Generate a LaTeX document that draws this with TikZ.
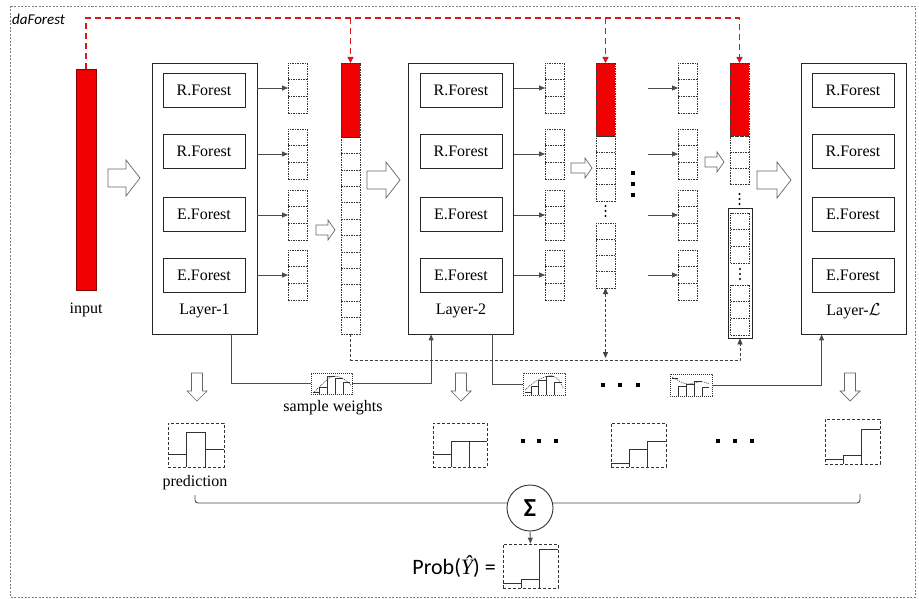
\documentclass[tikz,border=0pt]{standalone}
\usepackage{fontspec}
\setmainfont{Liberation Serif}
\newfontfamily\serif{Liberation Serif}
\newfontfamily\calfont{Carlito}
\usetikzlibrary{arrows.meta}
\newcommand{\vcol}[5]{%
  \node[vec, minimum height=#4*#5] (#1) at (#2+9.5,#3+#4*#5/2) {};
  \foreach \k in {1,...,#4} {\draw[cellline] (#2,#3+\k*#5) -- (#2+19,#3+\k*#5);}
}
% hollow arrow to the right: x0, x1, yc, shaft half, head half, head length
\newcommand{\harrowR}[6]{%
  \draw[harrow] (#1,#3-#4) -- (#2-#6,#3-#4) -- (#2-#6,#3-#5) -- (#2,#3) -- (#2-#6,#3+#5) -- (#2-#6,#3+#4) -- (#1,#3+#4) -- cycle;}
% hollow arrow down: xc, y0, y1, shaft half, head half, head length
\newcommand{\harrowD}[6]{%
  \draw[harrow] (#1-#4,#2) -- (#1-#4,#3-#6) -- (#1-#5,#3-#6) -- (#1,#3) -- (#1+#5,#3-#6) -- (#1+#4,#3-#6) -- (#1+#4,#2) -- cycle;}
\begin{document}
\begin{tikzpicture}[x=1pt,y=-1pt,
  conn/.style={draw=black!70, line width=0.9pt},
  arr/.style={conn, -{Triangle[length=6pt,width=5pt]}},
  dconn/.style={draw=black!75, line width=0.8pt, dash pattern=on 3pt off 2pt},
  reddash/.style={draw={rgb,255:red,215;green,25;blue,25}, line width=1.4pt, dash pattern=on 6pt off 4pt},
  vec/.style={draw=black!80, line width=0.6pt, dash pattern=on 1.5pt off 1pt, minimum width=19pt, inner sep=0pt, outer sep=0pt},
  cellline/.style={draw=black!80, line width=0.6pt, dash pattern=on 1.5pt off 1pt},
  redvec/.style={vec, fill={rgb,255:red,240;green,0;blue,0}},
  forestbox/.style={draw=black!85, line width=0.8pt, minimum width=82pt, minimum height=34pt, inner sep=0pt, font=\serif\fontsize{16}{18}\selectfont},
  layerbox/.style={draw=black!85, line width=0.8pt, minimum width=105pt, minimum height=271pt, inner sep=0pt},
  lbl/.style={font=\serif\fontsize{16}{18}\selectfont, inner sep=0pt},
  harrow/.style={draw=black!60, line width=0.7pt, fill=white},
  histbox/.style={draw=black!80, line width=0.8pt, dash pattern=on 3pt off 2pt, inner sep=0pt},
  swbox/.style={draw=black!80, line width=0.6pt, dash pattern=on 1.2pt off 0.8pt, inner sep=0pt},
  hist/.style={draw=black!80, line width=0.9pt},
  minihist/.style={draw=black!80, line width=0.5pt},
  minicurve/.style={draw=black!80, line width=0.6pt, dash pattern=on 1pt off 1pt},
  ]
\useasboundingbox (0,0) rectangle (919,599);
\draw[draw=black!50, line width=0.9pt, dash pattern=on 2pt off 1.5pt] (10,6) rectangle (915,597);
\node[anchor=west, inner sep=0pt, font=\calfont\itshape\fontsize{15}{17}\selectfont] (title) at (12,19) {daForest};

% input
\node[draw={rgb,255:red,140;green,0;blue,0}, fill={rgb,255:red,240;green,0;blue,0}, line width=0.8pt, minimum width=20pt, minimum height=221pt, inner sep=0pt] (inp) at (86,179.5) {};
\node[lbl] (inplbl) at (86,310) {input};

% layers
\node[layerbox] (L1) at (204.5,198.5) {};
\node[layerbox] (L2) at (461,198.5) {};
\node[layerbox] (LL) at (853.5,198.5) {};
\foreach \lay/\cx in {L1/204, L2/461, LL/853} {
  \node[forestbox] (\lay-f1) at (\cx,90) {R.Forest};
  \node[forestbox] (\lay-f2) at (\cx,151) {R.Forest};
  \node[forestbox] (\lay-f3) at (\cx,214) {E.Forest};
  \node[forestbox] (\lay-f4) at (\cx,275) {E.Forest};
}
\node[lbl] (L1lbl) at (204.5,311) {Layer-1};
\node[lbl] (L2lbl) at (461,311) {Layer-2};
\node[lbl] (LLlbl) at (853.5,311) {Layer-$\mathcal{L}$};

% output vectors
\foreach \c/\xl in {a/288, b/545, c/678} {
  \foreach \i/\yt in {1/63, 2/129, 3/190, 4/250} {
    \vcol{o\c\i}{\xl}{\yt}{3}{16.67}
  }
}
\foreach \i in {1,...,4} {
  \draw[arr] (L1.east |- oa\i.west) -- (oa\i.west);
  \draw[arr] (L2.east |- ob\i.west) -- (ob\i.west);
  \draw[arr] ([xshift=-30pt]oc\i.west) -- (oc\i.west);
}

% concatenated vectors
\node[redvec, minimum height=74] (c1r) at (350.5,100) {};
\vcol{c1}{341}{137}{12}{16.42}
\node[redvec, minimum height=73] (c2r) at (605.5,99.5) {};
\vcol{c2a}{596}{136}{4}{16.25}
\vcol{c2b}{596}{223}{4}{16.25}
\foreach \yy in {206,211,216} \fill (605.5,\yy) circle (1.2pt);
\node[redvec, minimum height=73] (c3r) at (739.5,99.5) {};
\vcol{c3a}{730}{136}{3}{16}
\foreach \yy in {194,199,204} \fill (739.5,\yy) circle (1.2pt);
\node[draw=black!85, line width=0.8pt, minimum width=24pt, minimum height=130pt, inner sep=0pt] (c3box) at (740,273) {};
\vcol{c3b}{730.5}{213}{3}{16.67}
\foreach \yy in {269,274,279} \fill (740,\yy) circle (1.2pt);
\vcol{c3c}{730.5}{285}{3}{16.67}

% vertical big dots
\foreach \yy in {173,184,195} \fill (631,\yy-2) rectangle (635,\yy+2);

% hollow arrows
\harrowR{108}{140}{178}{9}{18}{14}
\harrowR{367}{400}{180}{9}{18}{14}
\harrowR{757}{791}{180}{9}{18}{14}
\harrowR{316}{335}{230}{5}{10}{7}
\harrowR{571}{592}{168}{5}{10}{7}
\harrowR{705}{724}{162}{5}{10}{7}
\harrowD{197}{373}{401}{5.5}{10}{10}
\harrowD{461}{373}{401}{5.5}{10}{10}
\harrowD{850}{373}{401}{5.5}{10}{10}

% red feedback lines
\coordinate (rtop) at (0,18);
\draw[reddash, -{Triangle[length=6pt,width=6pt]}] (inp.north) |- (c3r.north |- rtop) -- (c3r.north);
\draw[reddash, -{Triangle[length=6pt,width=6pt]}] (c1r.north |- rtop) -- (c1r.north);
\draw[reddash, -{Triangle[length=6pt,width=6pt]}] (c2r.north |- rtop) -- (c2r.north);

% sample weight boxes
\node[swbox, minimum width=41pt, minimum height=21pt] (sw1) at (331.5,383.5) {};
\node[swbox, minimum width=42pt, minimum height=22pt] (sw2) at (544,384) {};
\node[swbox, minimum width=42pt, minimum height=22pt] (sw3) at (691,385) {};
\draw[minihist] (313,392) -- (319,392) (319,394) -- (319,387) -- (327,387) (327,394) -- (327,376) -- (335,376) (335,394) -- (335,378) -- (343,378) (343,394) -- (343,382) -- (350,382);
\draw[minicurve] (313,393) .. controls (322,385) and (328,377) .. (334,376) .. controls (340,376) and (346,380) .. (351,385);
\draw[minihist] (525,392) -- (531,392) (531,395) -- (531,386) -- (538,386) (538,395) -- (538,380) -- (546,380) (546,395) -- (546,376) -- (554,376) (554,395) -- (554,382) -- (562,382);
\draw[minicurve] (525,390) .. controls (533,382) and (540,378) .. (548,376) .. controls (555,374) and (560,380) .. (563,388);
\draw[minihist] (672,378) -- (678,378) (678,396) -- (678,386) -- (686,386) (686,396) -- (686,384) -- (694,384) (694,396) -- (694,381) -- (702,381) (702,396) -- (702,387) -- (709,387);
\draw[minicurve] (672,377) .. controls (678,380) and (682,384) .. (688,384) .. controls (694,384) and (700,379) .. (709,384);

% bottom connectors
\draw[conn] ([xshift=80pt]L1.south west) |- (sw1.west);
\draw[arr] (sw1.east) -| ([xshift=23pt]L2.south west);
\draw[conn] ([xshift=84pt]L2.south west) |- (sw2.west);
\draw[arr] (sw3.east) -| ([xshift=21pt]LL.south west);
\node[lbl] (swlbl) at (333,408) {sample weights};
\foreach \xx in {603,620,638} \fill (\xx-2,383) rectangle (\xx+2,387);

% dashed feedback at bottom
\draw[dconn, -{Triangle[length=6pt,width=5pt]}] (c1.south) -- ++(0,26) -| (c3box.south);
\draw[dconn, {Triangle[length=6pt,width=5pt]}-{Triangle[length=6pt,width=5pt]}] (c2b.south) -- ++(0,70);

% predictions
\node[histbox, minimum width=56pt, minimum height=44pt] (p1) at (196,445) {};
\node[histbox, minimum width=54pt, minimum height=44pt] (p2) at (460,445) {};
\node[histbox, minimum width=55pt, minimum height=44pt] (p3) at (638.5,445) {};
\node[histbox, minimum width=55pt, minimum height=45pt] (pL) at (852.5,441.5) {};
\draw[hist] (168,454) -- (186.7,454) (186.7,467) -- (186.7,432) -- (205.3,432) -- (205.3,467) (205.3,449) -- (224,449);
\draw[hist] (433,454) -- (451,454) (451,467) -- (451,441) -- (487,441) (469,467) -- (469,441);
\draw[hist] (611,463) -- (629.3,463) (629.3,467) -- (629.3,449) -- (647.7,449) (647.7,467) -- (647.7,441) -- (666,441);
\draw[hist] (825,459) -- (843.3,459) (843.3,464) -- (843.3,455) -- (861.7,455) (861.7,464) -- (861.7,429) -- (880,429);
\foreach \xx in {523,539,556,718,735,752} \fill (\xx-2,439) rectangle (\xx+2,443);
\node[lbl] (predlbl) at (195,483) {prediction};

% sum
\coordinate (sL) at (195,495);
\coordinate (sLc) at (195,503);
\coordinate (sRc) at (860,503);
\coordinate (sR) at (860,494);
\draw[conn, rounded corners=3pt] (sL) -- (sLc) -- (sRc) -- (sR);
\node[circle, draw=black!80, line width=0.9pt, fill=white, minimum size=46pt, inner sep=0pt, font=\calfont\bfseries\fontsize{26}{28}\selectfont] (sig) at (530,508) {Σ};
\node[histbox, minimum width=55pt, minimum height=44pt] (fin) at (530.5,566) {};
\draw[hist] (503,583) -- (521.3,583) (521.3,588) -- (521.3,579) -- (539.7,579) (539.7,588) -- (539.7,549) -- (558,549);
\draw[arr] (sig.south) -- (fin.north);
\node[anchor=east, inner sep=0pt, font=\calfont\fontsize{22}{24}\selectfont] (prob) at (496,567) {Prob({\serif\itshape Ŷ}) =};
\end{tikzpicture}
\end{document}
